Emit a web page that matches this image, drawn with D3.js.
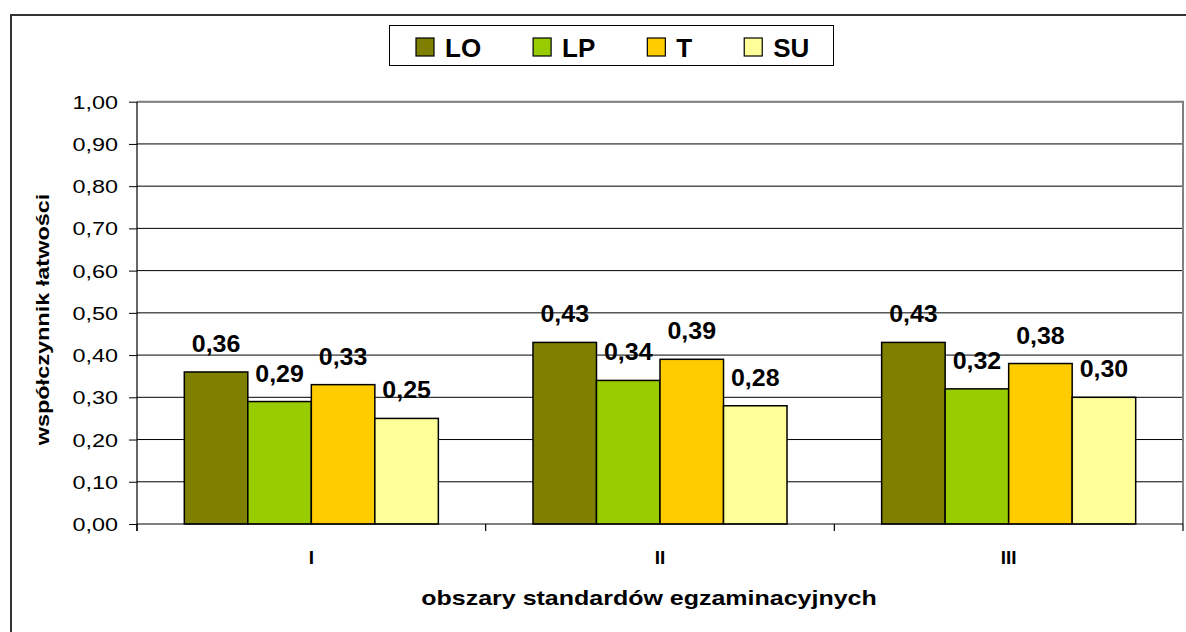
<!DOCTYPE html>
<html>
<head>
<meta charset="utf-8">
<script src="https://cdn.jsdelivr.net/npm/d3@7"></script>
<style>
  html, body { margin: 0; padding: 0; background: #fff; }
  svg { display: block; font-family: "Liberation Sans", Arial, sans-serif; }
</style>
</head>
<body>
<svg id="chart" width="1186" height="632"></svg>
<script>
// ---- data ----
const categories = ["I", "II", "III"];
const seriesNames = ["LO", "LP", "T", "SU"];
const LO = [0.36, 0.43, 0.43];
const LP = [0.29, 0.34, 0.32];
const T  = [0.33, 0.39, 0.38];
const SU = [0.25, 0.28, 0.30];
const seriesColors = ["#808000", "#99CC00", "#FFCC00", "#FFFF99"];
const yTicks = [0, 0.1, 0.2, 0.3, 0.4, 0.5, 0.6, 0.7, 0.8, 0.9, 1.0];
const yTitle = "współczynnik łatwości";
const xTitle = "obszary standardów egzaminacyjnych";

const seriesValues = [LO, LP, T, SU];
const fmt = v => v.toFixed(2).replace(".", ",");

const svg = d3.select("#chart");

// outer chart border
svg.append("rect").attr("x", 11).attr("y", 15).attr("width", 1300).attr("height", 700)
  .attr("fill", "#fff").attr("stroke", "#333").attr("stroke-width", 2);

// scales
const plotL = 137, plotR = 1183, plotT = 101.7, plotB = 524;
const x0 = d3.scaleBand().domain(categories).range([plotL, plotR]).padding(0);
const x1 = d3.scaleBand().domain(seriesNames).range([0, x0.bandwidth()])
  .paddingInner(0).paddingOuter(0.745);
const y = d3.scaleLinear().domain([0, 1]).range([plotB, plotT]);

// gridlines
svg.append("g").selectAll("line").data(yTicks.filter(t => t > 0)).join("line")
  .attr("x1", plotL).attr("x2", plotR)
  .attr("y1", d => y(d)).attr("y2", d => y(d))
  .attr("stroke", "#000").attr("stroke-width", 1);

// plot area border (top/right grey)
svg.append("path")
  .attr("d", `M${plotL},${plotT}H${plotR}V${plotB}`)
  .attr("fill", "none").attr("stroke", "#808080").attr("stroke-width", 2);

// bars
const barData = [];
categories.forEach((c, i) => {
  seriesNames.forEach((s, j) => {
    barData.push({ cat: c, ser: s, v: seriesValues[j][i], color: seriesColors[j] });
  });
});
svg.append("g").selectAll("rect").data(barData).join("rect")
  .attr("x", d => x0(d.cat) + x1(d.ser))
  .attr("y", d => y(d.v))
  .attr("width", x1.bandwidth())
  .attr("height", d => y(0) - y(d.v))
  .attr("fill", d => d.color)
  .attr("stroke", "#000").attr("stroke-width", 1.5);

// value labels
svg.append("g").selectAll("text").data(barData).join("text")
  .attr("transform", d => `translate(${x0(d.cat) + x1(d.ser) + x1.bandwidth() / 2},${y(d.v) - 20}) scale(1.04,1)`)
  .attr("text-anchor", "middle")
  .attr("font-size", 24).attr("font-weight", "bold").attr("fill", "#000")
  .text(d => fmt(d.v));

// y axis
const yAxis = svg.append("g").attr("transform", `translate(${plotL},0)`)
  .call(d3.axisLeft(y).tickValues(yTicks).tickSize(8).tickFormat(fmt));
yAxis.select(".domain").attr("stroke", "#000").attr("stroke-width", 1.2)
  .attr("d", `M0,${plotT}V${plotB + 7}`);
yAxis.selectAll(".tick line").attr("stroke", "#000");
yAxis.selectAll(".tick text")
  .attr("x", -19 / 1.3).attr("dy", "0.36em")
  .attr("transform", "scale(1.3,1)")
  .attr("font-size", 18).attr("font-family", "Liberation Sans, Arial, sans-serif")
  .attr("fill", "#000");

// x axis
svg.append("line").attr("x1", plotL).attr("x2", plotR).attr("y1", plotB).attr("y2", plotB)
  .attr("stroke", "#000").attr("stroke-width", 1.2);
const boundaries = categories.map(c => x0(c)).concat([x0(categories[categories.length - 1]) + x0.bandwidth()]);
svg.append("g").selectAll("line").data(boundaries).join("line")
  .attr("x1", d => d).attr("x2", d => d).attr("y1", plotB).attr("y2", plotB + 7)
  .attr("stroke", "#000").attr("stroke-width", 1.2);
const xAxis = svg.append("g").attr("transform", `translate(0,${plotB})`)
  .call(d3.axisBottom(x0).tickSize(0).tickPadding(0));
xAxis.select(".domain").remove();
xAxis.selectAll(".tick text")
  .attr("y", 40).attr("dy", 0)
  .attr("font-size", 19).attr("font-weight", "bold")
  .attr("font-family", "Liberation Sans, Arial, sans-serif").attr("fill", "#000");

// axis titles
svg.append("text")
  .attr("transform", "translate(649,605) scale(1.19,1)")
  .attr("text-anchor", "middle").attr("font-size", 21).attr("font-weight", "bold")
  .attr("fill", "#000").text(xTitle);
svg.append("text")
  .attr("transform", "translate(49,319.5) rotate(-90) scale(1.27,1)")
  .attr("text-anchor", "middle").attr("font-size", 18.5).attr("font-weight", "bold")
  .attr("fill", "#000").text(yTitle);

// legend
const legend = svg.append("g");
legend.append("rect").attr("x", 389.5).attr("y", 25.5).attr("width", 444).attr("height", 40)
  .attr("fill", "#fff").attr("stroke", "#000").attr("stroke-width", 1);
let lx = 416;
seriesNames.forEach((s, j) => {
  legend.append("rect").attr("x", lx).attr("y", 38).attr("width", 18).attr("height", 18)
    .attr("fill", seriesColors[j]).attr("stroke", "#000").attr("stroke-width", 1.2);
  const t = legend.append("text").attr("x", lx + 29).attr("y", 56.5)
    .attr("font-size", 26).attr("font-weight", "bold").attr("fill", "#000").text(s);
  lx += 29 + t.node().getComputedTextLength() + 52;
});
</script>
</body>
</html>
